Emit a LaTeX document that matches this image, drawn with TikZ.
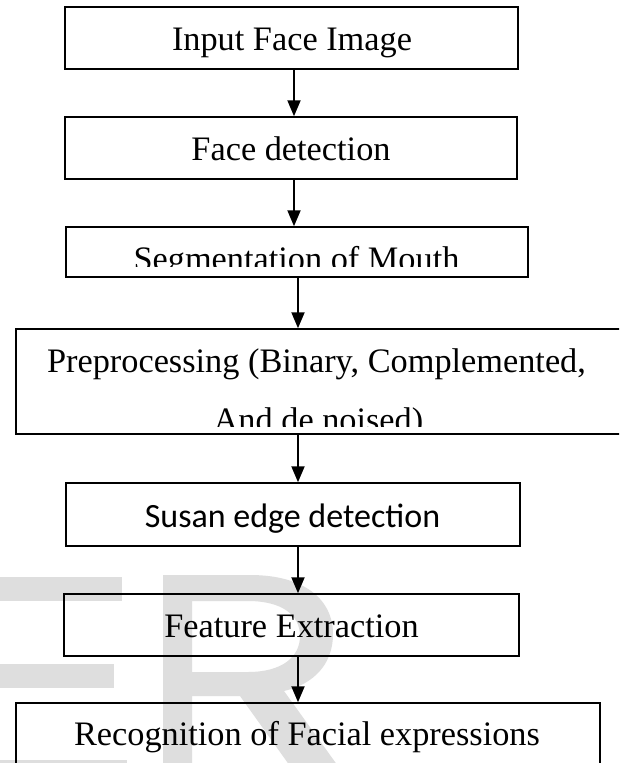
\documentclass[tikz,border=0pt]{standalone}
\usepackage{fontspec}
\setmainfont{Liberation Serif}
\newfontfamily\calibrifont{Carlito}
\usetikzlibrary{arrows.meta}
\tikzset{
  x=1pt, y=-1pt,
  stepbox/.style={draw=black, line width=1.5pt, rectangle, inner sep=0pt},
  txt/.style={font=\fontsize{34.3}{40}\selectfont, inner sep=0pt, anchor=base},
  arr/.style={line width=2pt, -{Triangle[length=16pt,width=13pt]}},
  wmark/.style={fill=black!13, draw=none}
}
\begin{document}
\begin{tikzpicture}
\clip (0,0) rectangle (619,763);
\fill[white] (0,0) rectangle (619,763);
% watermark
\fill[wmark] (-10,577) rectangle (122,601);
\fill[wmark] (-10,664) rectangle (114,688);
\fill[wmark] (-10,760) rectangle (127,775);
\fill[wmark, even odd rule]
  (163,575) -- (250,575) .. controls (305,575) and (333,600) .. (333,634)
  .. controls (333,664) and (314,684) .. (284,691) -- (348,780) -- (300,780)
  -- (240,696) -- (192,696) -- (192,780) -- (163,780) -- cycle
  (192,601) -- (248,601) .. controls (282,601) and (300,615) .. (300,636)
  .. controls (300,657) and (282,672) .. (248,672) -- (192,672) -- cycle;
% boxes
\node[stepbox, minimum width=453pt, minimum height=62pt] (b1) at (291.5,38) {};
\node[stepbox, minimum width=452pt, minimum height=62pt] (b2) at (291,148) {};
\node[stepbox, minimum width=462pt, minimum height=50pt] (b3) at (297,252) {};
\node[stepbox, minimum width=624pt, minimum height=105pt] (b4) at (328,381.5) {};
\node[stepbox, minimum width=454pt, minimum height=63pt] (b5) at (293,514.5) {};
\node[stepbox, minimum width=455pt, minimum height=62pt] (b6) at (291.5,625) {};
\node[stepbox, minimum width=584pt, minimum height=87pt] (b7) at (308,746.5) {};
% texts
\node[txt] (t1) at (292,50) {Input Face Image};
\node[txt] (t2) at (291,160) {Face detection};
\begin{scope}
  \clip (66,227) rectangle (528,266);
  \node[txt] (t3) at (296.5,270) {Segmentation of Mouth};
\end{scope}
\begin{scope}
  \clip (16,329) rectangle (619,426);
  \node[txt] (t4a) at (316.5,372) {Preprocessing (Binary, Complemented,};
  \node[txt] (t4b) at (318.5,431) {And de noised)};
\end{scope}
\node[txt, font=\calibrifont\fontsize{34}{40}\selectfont] (t5) at (292.5,527) {Susan edge detection};
\node[txt] (t6) at (291.5,637) {Feature Extraction};
\node[txt] (t7) at (307,745) {Recognition of Facial expressions};
% arrow axes
\coordinate (xa) at (294,0);
\coordinate (xb) at (298,0);
\draw[arr] (b1.south -| xa) -- (b2.north -| xa);
\draw[arr] (b2.south -| xa) -- (b3.north -| xa);
\draw[arr] (b3.south -| xb) -- (b4.north -| xb);
\draw[arr] (b4.south -| xb) -- (b5.north -| xb);
\draw[arr] (b5.south -| xb) -- (b6.north -| xb);
\draw[arr] (b6.south -| xb) -- (b7.north -| xb);
\end{tikzpicture}
\end{document}
